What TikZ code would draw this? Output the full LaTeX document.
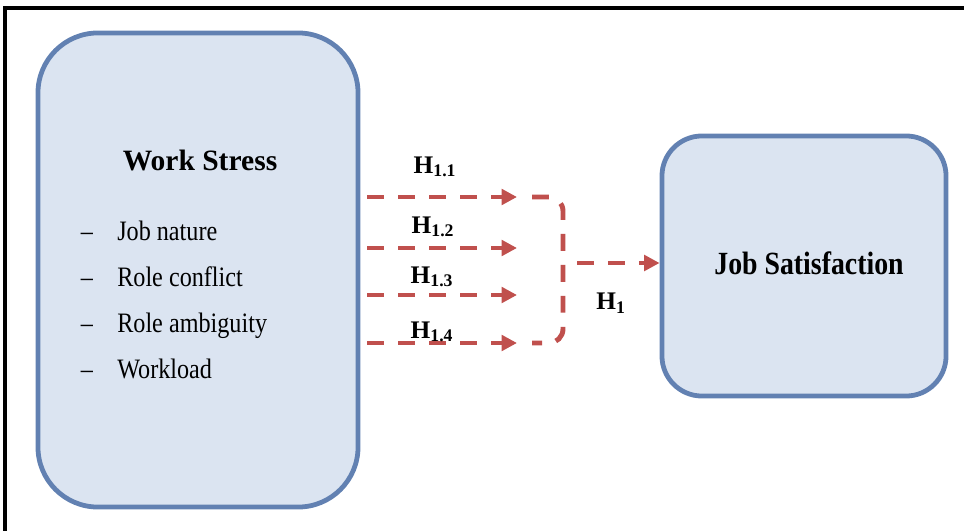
\documentclass[tikz,border=0pt]{standalone}
\usepackage{fontspec}
\setmainfont{Liberation Serif}
\newfontfamily\narrowfont{Liberation Serif}[FakeStretch=0.86, Ligatures=TeX]
\usetikzlibrary{arrows.meta}

\definecolor{boxfill}{RGB}{219,228,241}
\definecolor{boxline}{RGB}{98,129,178}
\definecolor{hypred}{RGB}{192,80,77}

\begin{document}
\begin{tikzpicture}[x=0.025cm, y=-0.025cm]
\tikzset{
  block/.style={draw=boxline, fill=boxfill, line width=3.4pt},
  btitle/.style={font=\fontsize{21}{23}\selectfont\bfseries},
  jtitle/.style={font=\narrowfont\fontsize{23}{25}\selectfont\bfseries},
  bitem/.style={font=\narrowfont\fontsize{20}{22}\selectfont, inner sep=0pt},
  hlabel/.style={font=\fontsize{18}{20}\selectfont\bfseries, inner sep=0pt},
  hyp/.style={hypred, line width=3.5pt, dash pattern=on 12pt off 10pt},
  hyparr/.style={hyp, -{Triangle[length=11pt,width=11pt]}},
}
\useasboundingbox (0,0) rectangle (964,531);

% ---- outer frame (cut at right and bottom) ----
\draw[line width=2.9pt] (5,531) -- (5,8) -- (964,8);

% ---- boxes ----
\node[block, rounded corners=1.5cm, minimum width=8cm, minimum height=11.85cm]
  (stress) at (198,270) {};
\node[block, rounded corners=1cm, minimum width=7.1cm, minimum height=6.5cm]
  (satis) at (804,266) {};

\node[btitle] (wstitle) at (200,160) {Work Stress};
\foreach \t [count=\k] in {Job nature, Role conflict, Role ambiguity, Workload}{
  \pgfmathsetmacro{\yy}{240+(\k-1)*46}
  \node[bitem, anchor=base] (dash\k) at (87,\yy) {\textendash};
  \node[bitem, anchor=base west] (item\k) at (117,\yy) {\t};
}
\node[jtitle] (jstitle) at (809,263) {Job Satisfaction};

% ---- hypothesis arrows ----
\coordinate (t1) at (517,197);
\coordinate (t2) at (517,248);
\coordinate (t3) at (517,295);
\coordinate (t4) at (517,343);
\foreach \k in {1,...,4}{
  \draw[hyparr] ([xshift=5pt]stress.east |- t\k) -- (t\k);
}
\node[hlabel] (h11) at (435,167) {H\textsubscript{1.1}};
\node[hlabel] (h12) at (433,227) {H\textsubscript{1.2}};
\node[hlabel] (h13) at (432,277) {H\textsubscript{1.3}};
\node[hlabel] (h14) at (432,332) {H\textsubscript{1.4}};

% bracket joining the four arrows
\coordinate (brtop) at (532,197);
\coordinate (brbot) at (532,343);
\draw[hyp, rounded corners=10pt] (brtop) -- (563,197) -- (563,343) -- (brbot);

% ---- overall hypothesis ----
\coordinate (jn) at (577,263);
\draw[hyparr] (jn) -- (jn -| satis.west);
\node[hlabel] (h1) at (611,303) {H\textsubscript{1}};

\end{tikzpicture}
\end{document}
